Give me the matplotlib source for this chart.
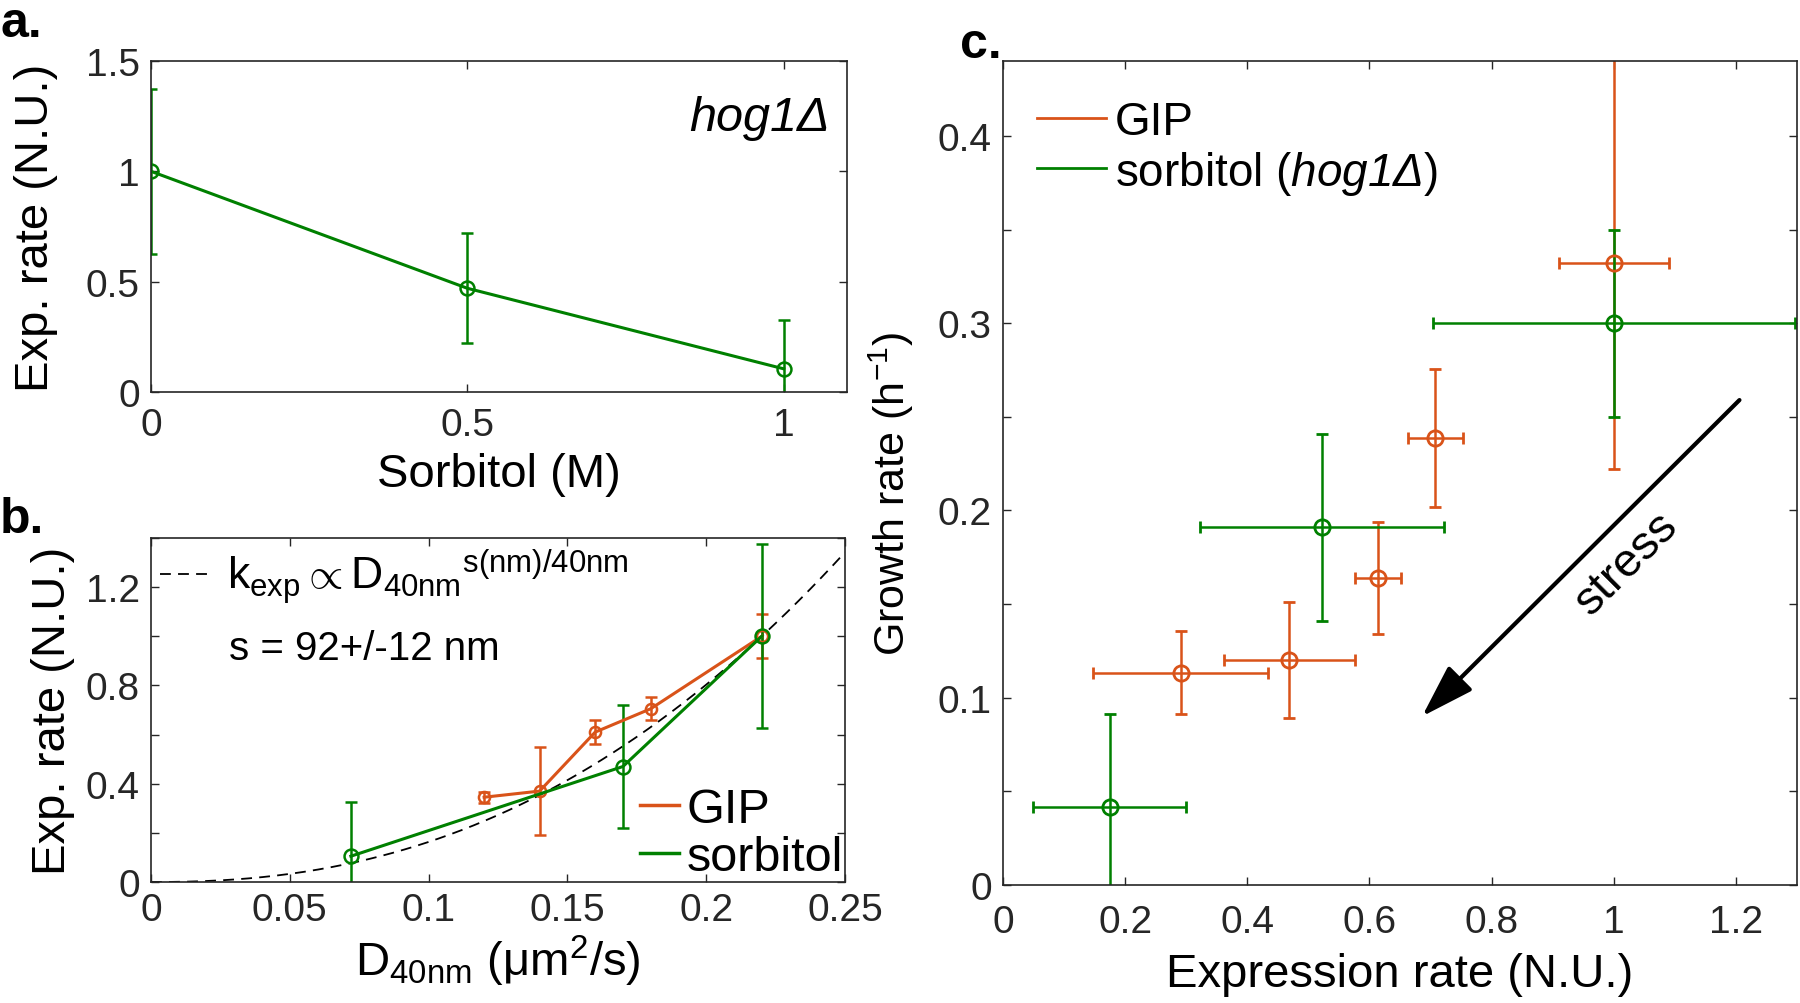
import numpy as np
import matplotlib
matplotlib.use("Agg")
import matplotlib.pyplot as plt
from matplotlib.lines import Line2D

plt.rcParams['font.family'] = ['Liberation Sans', 'DejaVu Sans']
plt.rcParams['mathtext.fontset'] = 'custom'
plt.rcParams['mathtext.rm'] = 'Liberation Sans'
plt.rcParams['mathtext.it'] = 'Liberation Sans:italic'
plt.rcParams['mathtext.sf'] = 'Liberation Sans:italic'
plt.rcParams['mathtext.bf'] = 'Liberation Sans:bold'

ORANGE = '#D95319'
GREEN = '#008000'
DARK = '#262626'

# panel a: sorbitol concentration vs expression rate (hog1 delta)
sorb_M = [0, 0.5, 1]
sorb_rate = [1.0, 0.47, 0.105]
sorb_rate_err = [0.375, 0.25, 0.22]

# panel b: diffusion coefficient vs expression rate
sorb_D = [0.22, 0.17, 0.072]
gip_D = [0.12, 0.14, 0.16, 0.18, 0.22]
gip_rate = [0.345, 0.37, 0.61, 0.705, 1.0]
gip_rate_err = [0.022, 0.18, 0.05, 0.046, 0.09]
s_nm = 92          # fitted length scale, k_exp ~ D^(s/40nm)
D_ref = 0.22       # normalisation point

# panel c: expression rate vs growth rate
gip_expr = [1.0, 0.708, 0.614, 0.469, 0.291]
gip_expr_err = [0.09, 0.045, 0.038, 0.107, 0.143]
gip_growth = [0.332, 0.2386, 0.1638, 0.1203, 0.1134]
gip_growth_err = [0.11, 0.037, 0.03, 0.031, 0.022]
sorb_expr = [1.0, 0.5225, 0.1745]
sorb_expr_err = [0.296, 0.2, 0.125]
sorb_growth = [0.3, 0.1909, 0.0415]
sorb_growth_err = [0.05, 0.05, 0.05]


def style_axes(ax, xpad, ypad=8):
    for sp in ax.spines.values():
        sp.set_linewidth(1.2)
        sp.set_color(DARK)
    ax.tick_params(direction='in', length=6, width=1, top=True, right=True,
                   labelsize=28, colors=DARK, labelcolor=DARK)
    ax.tick_params(axis='x', pad=xpad)
    ax.tick_params(axis='y', pad=ypad)


fig = plt.figure(figsize=(18, 10.04), dpi=100)

# ---- panel a
ax_a = fig.add_axes([151/1800, 1-393/1004, 696/1800, 331/1004])
ax_a.errorbar(sorb_M, sorb_rate, yerr=sorb_rate_err, color=GREEN, lw=2.2,
              elinewidth=1.8, capsize=4, capthick=1.8, marker='o', ms=10,
              mfc='none', mew=1.8)
ax_a.set_xlim(0, 1.1)
ax_a.set_ylim(0, 1.5)
ax_a.set_xticks([0, 0.5, 1])
ax_a.set_xticklabels(['0', '0.5', '1'])
ax_a.set_yticks([0, 0.5, 1, 1.5])
ax_a.set_yticklabels(['0', '0.5', '1', '1.5'])
style_axes(ax_a, xpad=11)
ax_a.set_xlabel('Sorbitol (M)', fontsize=34, labelpad=6)
ax_a.set_ylabel('Exp. rate (N.U.)', fontsize=34, labelpad=20)
ax_a.text(0.975, 0.83, 'hog1Δ', transform=ax_a.transAxes, fontstyle='italic',
          fontsize=35, ha='right', va='center')

# ---- panel b
ax_b = fig.add_axes([151/1800, 1-883/1004, 694/1800, 344/1004])
fit_D = np.linspace(0, 0.25, 300)
fit_k = (fit_D / D_ref) ** (s_nm / 40)
ax_b.plot(fit_D, fit_k, color='black', ls='--', lw=1.3, dashes=(6, 4))
ax_b.errorbar(gip_D, gip_rate, yerr=gip_rate_err, color=ORANGE, lw=2.2,
              elinewidth=1.8, capsize=4, capthick=1.8, marker='o', ms=8,
              mfc='none', mew=1.8)
ax_b.errorbar(sorb_D, sorb_rate, yerr=sorb_rate_err, color=GREEN, lw=2.2,
              elinewidth=1.8, capsize=4, capthick=1.8, marker='o', ms=10,
              mfc='none', mew=1.8)
ax_b.set_xlim(0, 0.25)
ax_b.set_ylim(0, 1.4)
ax_b.set_xticks([0, 0.05, 0.1, 0.15, 0.2, 0.25])
ax_b.set_xticklabels(['0', '0.05', '0.1', '0.15', '0.2', '0.25'])
ax_b.set_yticks([0, 0.2, 0.4, 0.6, 0.8, 1.0, 1.2, 1.4])
ax_b.set_yticklabels(['0', '', '0.4', '', '0.8', '', '1.2', ''])
style_axes(ax_b, xpad=7)
ax_b.set_xlabel(r'D$_{\mathrm{40nm}}$ ($\mathrm{\mu}$m$^{\mathrm{2}}$/s)',
                fontsize=34, labelpad=4)
ax_b.set_ylabel('Exp. rate (N.U.)', fontsize=34, labelpad=8)

fit_handle = Line2D([], [], color='black', ls='--', lw=1.3, dashes=(6, 4))
leg_fit = ax_b.legend([fit_handle],
                      [r'$\mathrm{k_{exp}} \propto \mathrm{D_{40nm}{}^{s(nm)/40nm}}$'],
                      loc='upper left', frameon=False, fontsize=32,
                      handlelength=1.2, handletextpad=0.3, borderaxespad=0.1,
                      borderpad=0.1)
ax_b.add_artist(leg_fit)
ax_b.text(0.113, 0.68, 's = 92+/-12 nm', transform=ax_b.transAxes,
          fontsize=29, ha='left', va='center')
gip_handle = Line2D([], [], color=ORANGE, lw=2.5)
sorb_handle = Line2D([], [], color=GREEN, lw=2.5)
ax_b.legend([gip_handle, sorb_handle], ['GIP', 'sorbitol'], loc='lower right',
            frameon=False, fontsize=35, handlelength=0.8, handletextpad=0.15,
            labelspacing=0.05, borderaxespad=0.0, borderpad=0.05)

# ---- panel c
ax_c = fig.add_axes([1003/1800, 1-886/1004, 794/1800, 824/1004])
ax_c.errorbar(gip_expr, gip_growth, xerr=gip_expr_err, yerr=gip_growth_err,
              color=ORANGE, ls='none', elinewidth=1.8, capsize=4, capthick=1.8,
              marker='o', ms=11, mfc='none', mew=2)
ax_c.errorbar(sorb_expr, sorb_growth, xerr=sorb_expr_err, yerr=sorb_growth_err,
              color=GREEN, ls='none', elinewidth=1.8, capsize=4, capthick=1.8,
              marker='o', ms=11, mfc='none', mew=2)
ax_c.set_xlim(0, 1.3)
ax_c.set_ylim(0, 0.44)
ax_c.set_xticks([0, 0.2, 0.4, 0.6, 0.8, 1.0, 1.2])
ax_c.set_xticklabels(['0', '0.2', '0.4', '0.6', '0.8', '1', '1.2'])
ax_c.set_yticks(np.arange(0, 0.41, 0.05))
ax_c.set_yticklabels(['0', '', '0.1', '', '0.2', '', '0.3', '', '0.4'])
style_axes(ax_c, xpad=14)
ax_c.set_xlabel('Expression rate (N.U.)', fontsize=34, labelpad=8)
ax_c.set_ylabel(r'Growth rate (h$^{\mathrm{-1}}$)', fontsize=31, labelpad=16)
ax_c.yaxis.label.set_y(0.476)
ax_c.legend([Line2D([], [], color=ORANGE, lw=2), Line2D([], [], color=GREEN, lw=2)],
            ['GIP', r'sorbitol ($\mathsf{hog1\Delta}$)'], loc='upper left',
            bbox_to_anchor=(0.02, 0.975), frameon=False, fontsize=33,
            handlelength=1.5, handletextpad=0.2, labelspacing=0.1,
            borderaxespad=0.0)
ax_c.annotate('', xy=(0.683, 0.089), xytext=(1.209, 0.26),
              arrowprops=dict(arrowstyle='-|>,head_length=1.1,head_width=0.35',
                              lw=3, color='black', mutation_scale=30))
ax_c.text(1.022, 0.172, 'stress', fontsize=34, rotation=45,
          ha='center', va='center')

# panel letters
fig.text(0.0, 1-37/1004, 'a.', fontsize=36, fontweight='bold', ha='left', va='baseline')
fig.text(0.0, 1-533/1004, 'b.', fontsize=36, fontweight='bold', ha='left', va='baseline')
fig.text(1002/1800, 1-58/1004, 'c.', fontsize=36, fontweight='bold', ha='right', va='baseline')

fig.savefig('out.png', dpi=100)
